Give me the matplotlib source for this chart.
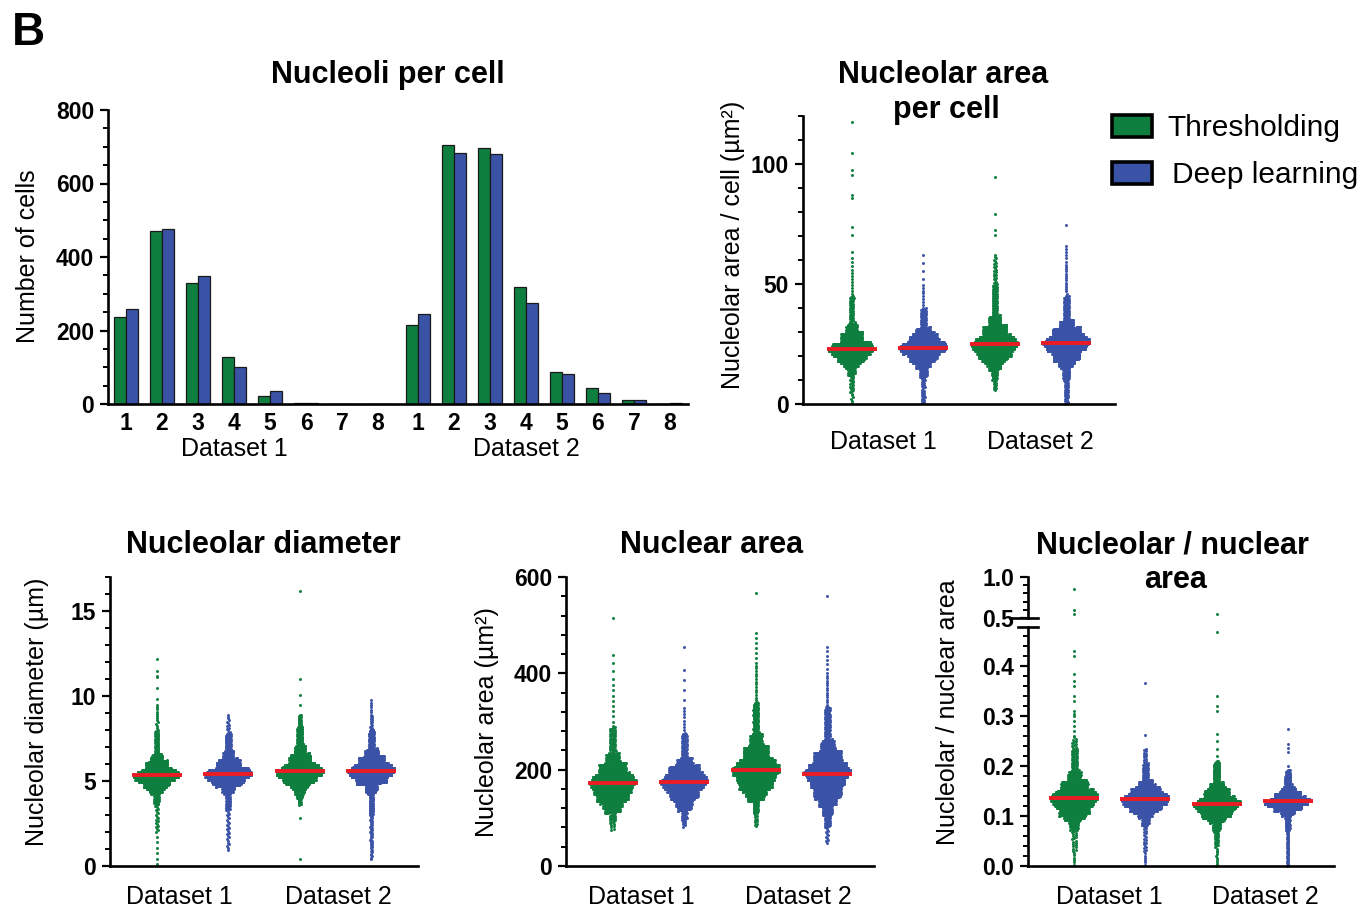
import numpy as np
import matplotlib
matplotlib.use('Agg')
import matplotlib.pyplot as plt
from matplotlib.patches import Rectangle
from matplotlib.lines import Line2D

plt.rcParams['font.family'] = ['Liberation Sans', 'DejaVu Sans']

W, H = 1363, 910
GREEN = '#0f7f3f'
BLUE = '#3a53a6'
RED = '#ec1c24'

# ---- bar chart: number of cells per nucleoli count ----
nucleoli = ['1', '2', '3', '4', '5', '6', '7', '8']
ds1_thr = [237, 472, 330, 127, 22, 3, 0, 0]
ds1_dl = [258, 476, 347, 100, 35, 2, 0, 0]
ds2_thr = [215, 706, 697, 318, 86, 44, 10, 1]
ds2_dl = [245, 683, 680, 275, 81, 29, 10, 2]

# ---- scatter panels: each group given as values read at these quantiles,
# plus the isolated outlier points read one by one (thousands of dots can't be
# read individually, so the bulk is rebuilt from the read quantiles)
PROBS = [0, .005, .02, .05, .10, .25, .375, .50, .625, .75, .90, .95, .99, .997, 1]

area_cell_q = [
    [0.5, 5, 12, 15.5, 17.5, 20.3, 21.8, 23.0, 24.4, 26.0, 30.0, 33.5, 45, 55, 61],
    [0.3, 3, 11, 15, 17.5, 20.7, 22.2, 23.5, 24.8, 26.3, 29.5, 32, 40, 50, 62],
    [5.8, 10, 14, 16.5, 18.5, 21.5, 23.4, 24.9, 26.5, 28.5, 33, 37, 50, 58, 62],
    [0.0, 3, 10, 15.5, 18, 21.8, 23.7, 25.3, 26.7, 28.5, 32, 35, 45, 58, 66],
]
area_cell_out = [[63.5, 70.4, 73.9, 86, 87, 95.4, 97.5, 104.7, 117.5], [],
                 [70.5, 72.5, 79, 94.7], [74.6]]

diam_q = [
    [0.1, 2.0, 3.6, 4.3, 4.6, 5.0, 5.18, 5.33, 5.50, 5.7, 6.2, 6.6, 8.0, 9.0, 9.5],
    [0.95, 1.6, 3.3, 4.3, 4.7, 5.05, 5.25, 5.41, 5.59, 5.8, 6.3, 6.8, 7.8, 8.5, 8.9],
    [3.6, 4.0, 4.3, 4.6, 4.85, 5.2, 5.40, 5.57, 5.76, 6.0, 6.6, 7.1, 8.2, 8.7, 8.9],
    [0.4, 1.2, 3.0, 4.3, 4.8, 5.2, 5.42, 5.6, 5.78, 6.0, 6.5, 6.9, 8.0, 8.9, 9.76],
]
diam_out = [[9.8, 10.5, 11.1, 11.2, 11.5, 12.2], [],
            [0.4, 2.8, 9.5, 10.06, 11.0, 16.2], []]

nuc_q = [
    [75, 90, 110, 120, 132, 150, 162, 172, 181, 192, 215, 235, 290, 380, 438],
    [82, 95, 115, 125, 138, 157, 167, 175, 183, 193, 210, 225, 275, 330, 407],
    [83, 110, 135, 145, 157, 176, 189, 199, 209, 222, 250, 275, 340, 420, 483],
    [48, 80, 105, 125, 140, 165, 180, 192, 202, 215, 240, 262, 330, 400, 455],
]
nuc_out = [[515], [454], [567], [560]]

ratio_q = [
    [0.003, 0.03, 0.07, 0.09, 0.100, 0.117, 0.127, 0.135, 0.143, 0.152, 0.172,
     0.19, 0.235, 0.25, 0.26],
    [0.003, 0.03, 0.08, 0.097, 0.108, 0.120, 0.127, 0.133, 0.139, 0.146, 0.160,
     0.172, 0.205, 0.225, 0.235],
    [0.0, 0.04, 0.07, 0.088, 0.097, 0.110, 0.118, 0.124, 0.130, 0.138, 0.155,
     0.167, 0.20, 0.205, 0.21],
    [0.0, 0.02, 0.07, 0.100, 0.110, 0.120, 0.125, 0.129, 0.133, 0.139, 0.150,
     0.160, 0.183, 0.19, 0.192],
]
ratio_out = [[0.27, 0.28, 0.29, 0.30, 0.305, 0.31, 0.33, 0.34, 0.36, 0.37, 0.385,
              0.42, 0.43, 0.55, 0.60, 0.85],
             [0.262, 0.367],
             [0.22, 0.235, 0.25, 0.265, 0.31, 0.32, 0.34, 0.469, 0.549],
             [0.20, 0.229, 0.237, 0.245, 0.274]]

datasets = ['Dataset 1', 'Dataset 2']
n_cells = [sum(ds1_thr), sum(ds1_dl), sum(ds2_thr), sum(ds2_dl)]
colors = [GREEN, BLUE, GREEN, BLUE]


def make_groups(qs, outs):
    groups = []
    for q, o, n in zip(qs, outs, n_cells):
        bulk = np.interp(np.linspace(0, 1, n - len(o)), PROBS, q)
        groups.append(np.concatenate([bulk, np.array(o, dtype=float)]))
    return groups


def rect(l, t, r, b):
    return [l / W, 1 - b / H, (r - l) / W, (b - t) / H]


def style(ax, yticks, ylabels, minor):
    for s in ['top', 'right']:
        ax.spines[s].set_visible(False)
    for s in ['left', 'bottom']:
        ax.spines[s].set_linewidth(1.9)
    ax.set_yticks(yticks, ylabels, fontweight='bold', fontsize=16.5)
    ax.set_yticks(minor, minor=True)
    ax.tick_params(axis='y', which='major', length=6, width=1.6, pad=4)
    ax.tick_params(axis='y', which='minor', length=3.5, width=1.4)
    ax.tick_params(axis='x', length=0)


DOT_PX = 2.9
ROW_PX = 2.4
WIDTH_PX = 46
GAMMA = 0.75


def swarm(ax, groups, box, ylim, xlim=(-0.65, 3.65), median=True):
    l, t, r, b = box
    dx = (xlim[1] - xlim[0]) / (r - l)
    dy = (ylim[1] - ylim[0]) / (b - t)
    for i, vals in enumerate(groups):
        med = np.median(vals)
        v = np.sort(vals[(vals >= ylim[0]) & (vals <= ylim[1])])
        if len(v):
            rows = np.floor((v - ylim[0]) / (ROW_PX * dy)).astype(int)
            uniq, cnt = np.unique(rows, return_counts=True)
            nmax = max(cnt.max(), 60)
            xs = np.zeros_like(v)
            for u, c in zip(uniq, cnt):
                if c < 2:
                    continue
                idx = np.where(rows == u)[0]
                wid = min((c - 1) * DOT_PX, WIDTH_PX * (c / nmax) ** GAMMA)
                xs[idx] = np.linspace(-wid / 2, wid / 2, c) * dx
            ax.scatter(i + xs, v, s=4.6, color=colors[i], linewidths=0,
                       clip_on=False, zorder=2)
        if median and ylim[0] <= med <= ylim[1]:
            half = (WIDTH_PX / 2 + 2) * dx
            ax.plot([i - half, i + half], [med, med], color=RED, lw=2.8,
                    solid_capstyle='butt', zorder=3)
    ax.set_xlim(*xlim)
    ax.set_ylim(*ylim)


fig = plt.figure(figsize=(13.63, 9.10), dpi=100)

fig.text(12 / W, 1 - 45 / H, 'B', fontsize=33, fontweight='bold', ha='left',
         va='baseline')

# ---- panel: Nucleoli per cell ----
b1 = (108, 110, 688, 404)
ax1 = fig.add_axes(rect(*b1))
x1 = np.arange(len(nucleoli))
x2 = x1 + 8 + 0.11
bw = 0.34
ax1.bar(x1 - bw / 2, ds1_thr, bw, color=GREEN, edgecolor='#1a1a1a', lw=0.9)
ax1.bar(x1 + bw / 2, ds1_dl, bw, color=BLUE, edgecolor='#1a1a1a', lw=0.9)
ax1.bar(x2 - bw / 2, ds2_thr, bw, color=GREEN, edgecolor='#1a1a1a', lw=0.9)
ax1.bar(x2 + bw / 2, ds2_dl, bw, color=BLUE, edgecolor='#1a1a1a', lw=0.9)
ax1.set_xlim(-0.5, x2[-1] + 0.5)
ax1.set_ylim(0, 800)
style(ax1, [0, 200, 400, 600, 800], ['0', '200', '400', '600', '800'],
      np.arange(0, 801, 50))
ax1.set_xticks(np.concatenate([x1, x2]), nucleoli + nucleoli,
               fontweight='bold', fontsize=16.5)
ax1.tick_params(axis='x', pad=6)
tr = ax1.get_xaxis_transform()
ax1.text(x1[3], -52 / 294, datasets[0], transform=tr, ha='center',
         va='baseline', fontsize=18)
ax1.text(x2[3], -52 / 294, datasets[1], transform=tr, ha='center',
         va='baseline', fontsize=18)
fig.text(388 / W, 1 - 83 / H, 'Nucleoli per cell', fontsize=22,
         fontweight='bold', ha='center', va='baseline')
fig.text(28 / W, 1 - 256 / H, 'Number of cells', fontsize=18, rotation=90,
         ha='center', va='center')


def dataset_labels(ax, off_px, h_px, pos):
    tr = ax.get_xaxis_transform()
    for xpos, lab in zip(pos, datasets):
        ax.text(xpos, -off_px / h_px, lab, transform=tr, ha='center',
                va='baseline', fontsize=18)
    ax.set_xticks([])


# ---- panel: Nucleolar area per cell ----
b2 = (803, 116, 1115, 404)
ax2 = fig.add_axes(rect(*b2))
swarm(ax2, make_groups(area_cell_q, area_cell_out), b2, (0, 120),
      xlim=(-0.68, 3.68))
style(ax2, [0, 50, 100], ['0', '50', '100'], np.arange(0, 121, 10))
dataset_labels(ax2, 45, 288, [0.44, 2.64])
fig.text(943 / W, 1 - 83 / H, 'Nucleolar area', fontsize=22,
         fontweight='bold', ha='center', va='baseline')
fig.text(946 / W, 1 - 118 / H, 'per cell', fontsize=22,
         fontweight='bold', ha='center', va='baseline')
fig.text(733 / W, 1 - 245 / H, 'Nucleolar area / cell (µm²)', fontsize=18,
         rotation=90, ha='center', va='center')

# legend
for ytop, col, lab, xt in [(115, GREEN, 'Thresholding', 1167),
                           (162, BLUE, 'Deep learning', 1172)]:
    fig.patches.append(Rectangle((1112 / W, 1 - (ytop + 22) / H), 40 / W,
                                 22 / H, facecolor=col, edgecolor='black',
                                 lw=2.6, transform=fig.transFigure))
    fig.text(xt / W, 1 - (ytop + 21) / H, lab, fontsize=21.5, ha='left',
             va='baseline')

# ---- panel: Nucleolar diameter ----
b3 = (110, 577, 418, 866)
ax3 = fig.add_axes(rect(*b3))
swarm(ax3, make_groups(diam_q, diam_out), b3, (0, 17))
style(ax3, [0, 5, 10, 15], ['0', '5', '10', '15'], np.arange(0, 18, 1))
dataset_labels(ax3, 38, 289, [0.32, 2.54])
fig.text(263 / W, 1 - 553 / H, 'Nucleolar diameter', fontsize=22,
         fontweight='bold', ha='center', va='baseline')
fig.text(37 / W, 1 - 712 / H, 'Nucleolar diameter (µm)', fontsize=18,
         rotation=90, ha='center', va='center')

# ---- panel: Nuclear area ----
b4 = (566, 577, 874, 866)
ax4 = fig.add_axes(rect(*b4))
swarm(ax4, make_groups(nuc_q, nuc_out), b4, (0, 600))
style(ax4, [0, 200, 400, 600], ['0', '200', '400', '600'],
      np.arange(0, 601, 40))
dataset_labels(ax4, 38, 289, [0.40, 2.59])
fig.text(712 / W, 1 - 553 / H, 'Nuclear area', fontsize=22,
         fontweight='bold', ha='center', va='baseline')
fig.text(487 / W, 1 - 722 / H, 'Nucleolar area (µm²)', fontsize=18,
         rotation=90, ha='center', va='center')

# ---- panel: Nucleolar / nuclear area (broken axis) ----
ratio_groups = make_groups(ratio_q, ratio_out)
b5 = (1028, 627, 1334, 866)
ax5 = fig.add_axes(rect(*b5))
swarm(ax5, ratio_groups, b5, (0, 0.478))
style(ax5, [0, 0.1, 0.2, 0.3, 0.4], ['0.0', '0.1', '0.2', '0.3', '0.4'],
      np.arange(0, 0.47, 0.02))
dataset_labels(ax5, 38, 239, [0.49, 2.69])

b5u = (1028, 577, 1334, 618)
ax5u = fig.add_axes(rect(*b5u))
swarm(ax5u, ratio_groups, b5u, (0.5, 1.0), median=False)
style(ax5u, [0.5, 1.0], ['0.5', '1.0'], [0.6, 0.7, 0.8, 0.9])
ax5u.spines['bottom'].set_visible(False)
ax5u.set_xticks([])
ax5u.patch.set_alpha(0)

# break marks across the spine
for yb, x0, x1_ in [(618, 1010, 1038), (627, 1018, 1038)]:
    fig.add_artist(Line2D([x0 / W, x1_ / W], [1 - yb / H, 1 - yb / H],
                          color='black', lw=1.9, transform=fig.transFigure))

fig.text(1172 / W, 1 - 553 / H, 'Nucleolar / nuclear', fontsize=22,
         fontweight='bold', ha='center', va='baseline')
fig.text(1176 / W, 1 - 588 / H, 'area', fontsize=22,
         fontweight='bold', ha='center', va='baseline')
fig.text(948 / W, 1 - 712 / H, 'Nucleolar / nuclear area', fontsize=18,
         rotation=90, ha='center', va='center')

fig.savefig('out.png', dpi=100)
